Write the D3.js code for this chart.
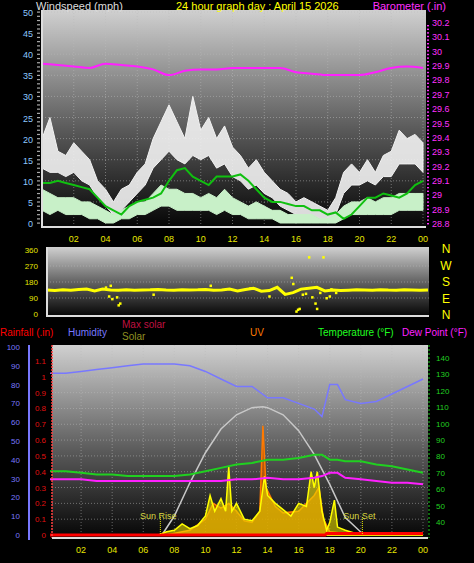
<!DOCTYPE html>
<html><head><meta charset="utf-8">
<script src="https://cdn.jsdelivr.net/npm/d3@7"></script>
<style>body{margin:0;background:#000}svg{display:block;font-family:"Liberation Sans",Arial,sans-serif}</style>
</head><body>
<script>
// ---- data ----
var hourTicks = [2,4,6,8,10,12,14,16,18,20,22,24];
var halfHours = d3.range(0, 24.01, 0.5);
var gustHi = [20,25,17,16,19,17,15,10,8,5,8,9,12,14,20,24,28,24,20,30,22,25,20,23,18,16,13,15,12,10,8,7,5,6,5,4,3,6,12,14,12,15,12,16,17,22,20,21,19];
var gustLo = [13,12,12,11,12,10,9,6,4,2,3,5,7,9,13,15,17,15,14,16,15,16,13,14,11,10,8,9,7,6,4,3,2,2,2,1,1,2,7,9,9,10,9,11,11,14,14,14,12];
var avgHi = [8,7,6,6,6,5,5,4,3,2,3,4,5,5,7,9,8,8,7,7,6,7,6,8,6,5,4,5,4,3,3,2,2,2,2,1,1,2,4,5,5,6,5,6,6,7,7,7,7];
var avgLo = [3,2,3,2,2,2,1,1,0,0,1,1,2,2,3,4,4,3,3,3,3,3,2,3,2,2,1,1,1,1,0,0,0,0,0,0,0,0,1,2,2,2,2,2,2,3,3,3,3];
var avg10 = [9.5,9.5,10,9.5,9,8.5,8,6,4,3,2,4,5,5.5,6,7,10,12.5,13,11,10,9,11,11,11,11.5,10,8,6,5,5,4.5,4,4,3,3,2,2.5,1,2,4,6,6,7,6.5,6,7,9,10,10,9];
var baroHours = [0,1,2,3,4,5,6,7,8,9,10,11,12,13,14,15,16,17,18,19,20,21,22,23,24];
var baro = [29.91,29.90,29.89,29.88,29.91,29.90,29.89,29.87,29.83,29.86,29.87,29.87,29.88,29.88,29.88,29.88,29.85,29.84,29.83,29.83,29.83,29.85,29.88,29.89,29.88];
var dirMain = [135,132,136,134,138,140,130,140,135,133,137,134,135,136,138,135,134,137,135,136,138,134,135,140,130,138,145,128,132,150,110,120,140,145,150,130,135,132,134,136,135,133,137,135,134,136,135,133,135];
var dirOutHours = [3.7,3.9,4.0,4.1,4.4,4.5,4.6,6.7,10.3,12.8,14.0,15.4,15.5,15.7,15.9,16.1,16.3,16.5,16.7,17.0,17.2,17.4,17.6,17.8,18.2,15.8,16.9,17.9];
var dirOut = [150,100,160,85,95,50,60,110,160,145,100,205,170,15,30,110,115,320,95,30,120,320,90,100,120,25,60,140];
var humHours = [0,1,2,3,4,5,6,7,8,9,10,11,12,13,14,15,16,17,17.5,18,18.5,19,20,21,22,23,24];
var humidity = [86,86,87,88,89,90,91,91,91,90,87,83,79,79,73,73,70,67,63,80,80,72,70,71,75,79,83];
var tempF = [71,71,70,69,69,68,68,68,68,69,71,73,75,76,78,78,79,81,81,78,78,77,77,75,74,72,70];
var dewF = [66,66,66,65,65,65,65,65,65,65,65,65,66,66,67,66,66,67,68,70,70,67,66,65,64,64,63];
var maxSolarHours = [7.2,8,9,10,11,12,13,13.7,14,15,16,17,18,19,20.2];
var maxSolar = [0,120,330,520,670,760,805,810,805,760,660,510,320,110,0];
var solarHours = [0,7,7.5,8,8.5,9,9.5,10,10.3,10.6,11,11.3,11.5,11.7,12,12.5,13,13.5,13.8,14,14.5,15,15.5,16,16.5,16.8,17,17.2,17.5,17.8,18,18.3,18.5,19,20,24];
var solar = [0,0,20,30,70,40,60,120,250,150,230,150,430,150,200,100,90,150,370,250,200,160,120,200,180,400,300,400,150,30,80,220,50,30,0,0];
var uvHours = [0,7.5,8.5,9,10,10.5,11,11.5,12,12.5,13,13.5,13.7,13.9,14.5,15,16,17,17.3,17.6,18,19,20,24];
var uv = [0,0,20,30,100,200,170,200,150,90,80,150,690,300,180,140,150,250,300,100,20,10,0,0];
var rainHours = [0,17.7,17.8,24];
var rain = [0,0,0.01,0.01];
var sunRise = 7.1, sunSet = 20.1;

var W = 474, H = 563;
var svg = d3.select('body').append('svg').attr('width', W).attr('height', H);
var defs = svg.append('defs');
var g = defs.append('linearGradient').attr('id', 'bg').attr('x1', 0).attr('x2', 0).attr('y1', 0).attr('y2', 1);
g.append('stop').attr('offset', '0%').attr('stop-color', '#d0d0d0');
g.append('stop').attr('offset', '55%').attr('stop-color', '#5a5a5a');
g.append('stop').attr('offset', '100%').attr('stop-color', '#050505');

function panel(x0, x1, y0, y1) {
  svg.append('rect').attr('x', x0).attr('y', y0).attr('width', x1 - x0).attr('height', y1 - y0).attr('fill', 'url(#bg)');
}
function text(x, y, s, col, anchor, size) {
  return svg.append('text').attr('x', x).attr('y', y).attr('fill', col).attr('font-size', size || 11)
    .attr('text-anchor', anchor || 'start').text(s);
}
function hl(x) { return x < 10 ? '0' + x : (x == 24 ? '00' : '' + x); }
var trim = d3.format('~g');
function xAxisLabels(x, y) {
  hourTicks.forEach(function(h) { text(x(h), y, hl(h), '#e6e600', 'middle', 9); });
}
function vgrid(x, y0, y1) {
  hourTicks.forEach(function(h) {
    svg.append('line').attr('x1', x(h)).attr('x2', x(h)).attr('y1', y0).attr('y2', y1)
      .attr('stroke', '#bbb').attr('stroke-opacity', 0.5).attr('stroke-dasharray', '1,2');
  });
}
function hgrid(ys, x0, x1) {
  ys.forEach(function(yy) {
    svg.append('line').attr('x1', x0).attr('x2', x1).attr('y1', yy).attr('y2', yy)
      .attr('stroke', '#bbb').attr('stroke-opacity', 0.5).attr('stroke-dasharray', '1,2');
  });
}

// ---- top panel: wind & barometer ----
var x1 = d3.scaleLinear().domain([0, 24]).range([42, 423]);
var yW = d3.scaleLinear().domain([0, 50]).range([223, 12]);
var yB = d3.scaleLinear().domain([28.8, 30.2]).range([223, 22]);
panel(42, 426, 10, 227);
vgrid(x1, 10, 227);
hgrid(d3.range(5, 51, 5).map(yW), 42, 426);
svg.append('path').datum(halfHours).attr('fill', '#f2f2f2').attr('fill-opacity', 0.9).attr('stroke', '#f2f2f2')
  .attr('d', d3.area().x(function(d) { return x1(d); }).y0(function(d, i) { return yW(gustLo[i]); }).y1(function(d, i) { return yW(gustHi[i]); }));
svg.append('path').datum(halfHours).attr('fill', '#c8f0c8').attr('stroke', '#c8f0c8')
  .attr('d', d3.area().x(function(d) { return x1(d); }).y0(function(d, i) { return yW(avgLo[i]); }).y1(function(d, i) { return yW(avgHi[i]); }));
svg.append('path').datum(halfHours).attr('fill', 'none').attr('stroke', '#10c010').attr('stroke-width', 2)
  .attr('d', d3.line().x(function(d) { return x1(d); }).y(function(d, i) { return yW(avg10[i]); }));
svg.append('path').datum(baroHours).attr('fill', 'none').attr('stroke', '#ff20ff').attr('stroke-width', 2)
  .attr('d', d3.line().x(function(d) { return x1(d); }).y(function(d, i) { return yB(baro[i]); }).curve(d3.curveMonotoneX));
svg.append('line').attr('x1', 42).attr('x2', 42).attr('y1', 10).attr('y2', 228).attr('stroke', '#ddd').attr('stroke-width', 2);
svg.append('line').attr('x1', 42).attr('x2', 426).attr('y1', 227).attr('y2', 227).attr('stroke', '#ddd').attr('stroke-width', 2);
d3.range(0, 51, 5).forEach(function(v) { text(33, yW(v) + 4, v, '#8cc8ff', 'end', 9); });
d3.range(0, 15).forEach(function(i) { var v = 28.8 + i / 10; text(432, yB(v) + 4, trim(+v.toFixed(1)), '#ff30ff', 'start', 9); });
d3.range(0, 51, 1).forEach(function(v) {
  svg.append('rect').attr('x', 37).attr('y', yW(v) - 0.5).attr('width', 3).attr('height', 1.2).attr('fill', '#aaa');
});
d3.range(0, 56, 1).forEach(function(i) {
  svg.append('rect').attr('x', 427).attr('y', 223 - i * 3.6).attr('width', 2).attr('height', 1.4).attr('fill', '#ff30ff');
});
xAxisLabels(x1, 242);
text(36, 10, 'Windspeed (mph)', '#ddd', 'start', 11);
text(176, 10, '24 hour graph day : April 15 2026', '#ffff00', 'start', 11);
text(446, 10, 'Barometer (.in)', '#ff30ff', 'end', 11);

// ---- middle panel: wind direction ----
var x2 = d3.scaleLinear().domain([0, 24]).range([47, 428]);
var yD = d3.scaleLinear().domain([0, 360]).range([314, 250]);
panel(47, 429, 247, 316);
hgrid([90, 180, 270].map(yD), 47, 429);
svg.append('path').datum(halfHours).attr('fill', 'none').attr('stroke', '#ffff00').attr('stroke-width', 3)
  .attr('d', d3.line().x(function(d) { return x2(d); }).y(function(d, i) { return yD(dirMain[i]); }));
svg.selectAll('.dd').data(dirOutHours).enter().append('rect')
  .attr('x', function(d) { return x2(d) - 1; }).attr('y', function(d, i) { return yD(dirOut[i]) - 1; })
  .attr('width', 2.5).attr('height', 2.5).attr('fill', '#ffff00');
svg.append('line').attr('x1', 47).attr('x2', 47).attr('y1', 247).attr('y2', 317).attr('stroke', '#ddd').attr('stroke-width', 2);
svg.append('line').attr('x1', 47).attr('x2', 429).attr('y1', 316).attr('y2', 316).attr('stroke', '#ddd').attr('stroke-width', 2);
[0, 90, 180, 270, 360].forEach(function(v) { text(38, yD(v) + 3, v, '#e6e600', 'end', 8); });
['N', 'W', 'S', 'E', 'N'].forEach(function(s, i) { text(446, 253 + i * 16.5, s, '#ffff00', 'middle', 12); });

// ---- bottom panel ----
var x3 = d3.scaleLinear().domain([0, 24]).range([50, 423]);
var yH = d3.scaleLinear().domain([0, 100]).range([535, 347]);
var yR = d3.scaleLinear().domain([0, 1.1]).range([535, 361]);
var yS = d3.scaleLinear().domain([0, 1100]).range([535, 361]);
var yT = d3.scaleLinear().domain([40, 140]).range([522, 358]);
panel(52, 428, 345, 538);
vgrid(x3, 345, 538);
hgrid(d3.range(1, 12).map(function(i) { return yR(i / 10); }), 52, 428);
function ln(hours, vals, y, col, w) {
  svg.append('path').datum(hours).attr('fill', 'none').attr('stroke', col).attr('stroke-width', w)
    .attr('d', d3.line().x(function(d) { return x3(d); }).y(function(d, i) { return y(vals[i]); }));
}
ln(maxSolarHours, maxSolar, yS, '#c8c8c8', 1.5);
svg.append('path').datum(uvHours).attr('fill', '#d05a00').attr('fill-opacity', 0.8).attr('stroke', '#ff7a00').attr('stroke-width', 1.5)
  .attr('d', d3.area().x(function(d) { return x3(d); }).y0(535).y1(function(d, i) { return yS(uv[i]); }));
svg.append('path').datum(solarHours).attr('fill', '#e8d800').attr('fill-opacity', 0.6).attr('stroke', '#ffff00').attr('stroke-width', 1.5)
  .attr('d', d3.area().x(function(d) { return x3(d); }).y0(535).y1(function(d, i) { return yS(solar[i]); }));
ln(humHours, humidity, yH, '#7878ff', 1.5);
ln(humHours, tempF, yT, '#20d020', 2);
ln(humHours, dewF, yT, '#ff20ff', 2);
ln(rainHours, rain, yR, '#ff0000', 3);
[sunRise, sunSet].forEach(function(h) {
  svg.append('line').attr('x1', x3(h)).attr('x2', x3(h)).attr('y1', 517).attr('y2', 535)
    .attr('stroke', '#e6e600').attr('stroke-dasharray', '1,1');
});
text(x3(sunRise) - 2, 519, 'Sun Rise', '#d8d840', 'middle', 9);
text(x3(sunSet) - 3, 519, 'Sun Set', '#d8d840', 'middle', 9);
svg.append('line').attr('x1', 52).attr('x2', 52).attr('y1', 345).attr('y2', 538).attr('stroke', '#ff4040').attr('stroke-width', 1.5).attr('stroke-dasharray', '2,1');
svg.append('line').attr('x1', 52).attr('x2', 428).attr('y1', 538).attr('y2', 538).attr('stroke', '#ddd').attr('stroke-width', 2);
svg.append('line').attr('x1', 29).attr('x2', 29).attr('y1', 345).attr('y2', 540).attr('stroke', '#7878ff').attr('stroke-width', 2);
svg.append('line').attr('x1', 429).attr('x2', 429).attr('y1', 345).attr('y2', 538).attr('stroke', '#20d020').attr('stroke-width', 1).attr('stroke-dasharray', '2,2');
d3.range(0, 101, 10).forEach(function(v) { text(20, yH(v) + 3, v, '#7878ff', 'end', 8); });
d3.range(0, 12).forEach(function(i) { text(46, yR(i / 10) + 3, trim(i / 10), '#e01010', 'end', 8); });
d3.range(40, 141, 10).forEach(function(v) { text(436, yT(v) + 3, v, '#20d020', 'start', 8); });
xAxisLabels(x3, 553);
text(0, 336, 'Rainfall (.in)', '#ff0000', 'start', 10);
text(68, 336, 'Humidity', '#7878ff', 'start', 10);
text(122, 328, 'Max solar', '#c01040', 'start', 10);
text(122, 340, 'Solar', '#909020', 'start', 10);
text(250, 336, 'UV', '#ff7a00', 'start', 10);
text(318, 336, 'Temperature (°F)', '#20ff20', 'start', 10);
text(402, 336, 'Dew Point (°F)', '#ff20ff', 'start', 10);
</script>
</body></html>
